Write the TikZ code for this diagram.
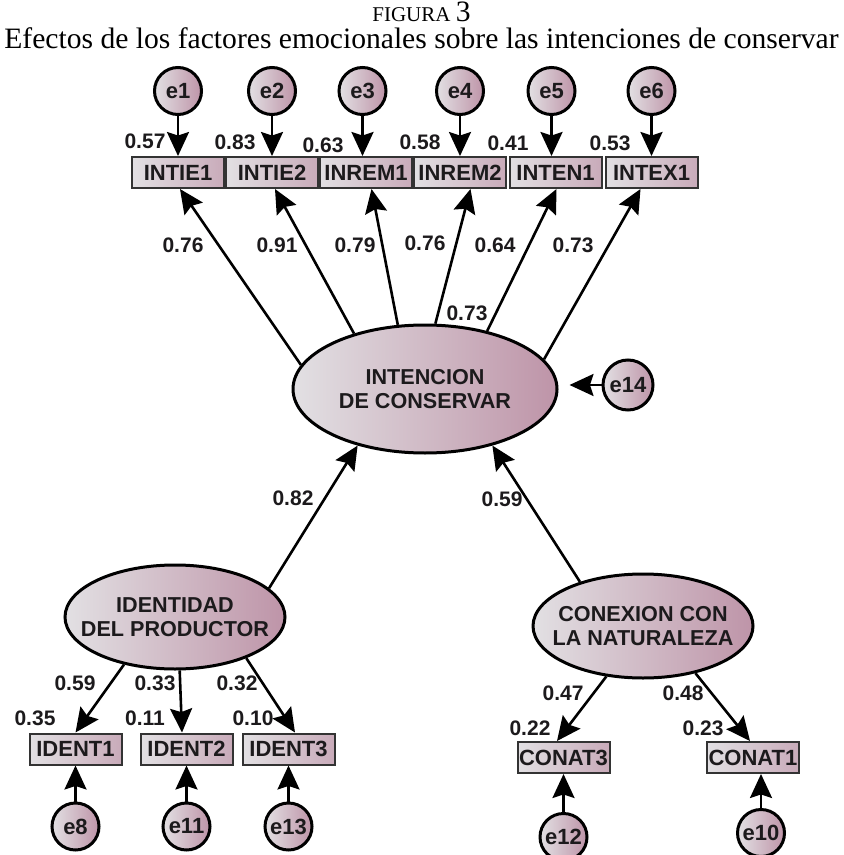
\documentclass[tikz,border=0pt]{standalone}
\usepackage{fontspec}
\setmainfont{Liberation Serif}
\setsansfont{Liberation Sans}
\usetikzlibrary{shapes.geometric, arrows.meta, positioning}
\definecolor{lightend}{RGB}{226,224,227}
\definecolor{mauveend}{RGB}{190,148,168}
\definecolor{inkcol}{RGB}{28,26,28}
\tikzstyle{latent} = [ellipse, draw=black, line width=1.5pt, left color=lightend, right color=mauveend, text=inkcol, font=\sffamily\bfseries\fontsize{10.8}{12}\selectfont, align=center, inner xsep=-15pt, inner ysep=0pt, minimum width=110pt, minimum height=52pt]
\tikzstyle{indicator} = [rectangle, draw=black!80, line width=1pt, left color=lightend, right color=mauveend!70!lightend, minimum width=46pt, minimum height=15.5pt, inner sep=0pt, text=inkcol, font=\sffamily\bfseries\fontsize{11}{12}\selectfont]
\tikzstyle{errorvar} = [circle, draw=black, line width=1.5pt, left color=lightend, right color=mauveend, minimum size=23.5pt, inner sep=0pt, text=inkcol, font=\sffamily\bfseries\fontsize{11}{12}\selectfont]
\tikzstyle{effect} = [draw=black, line width=1.3pt, -{Stealth[length=12pt, width=11pt, inset=1.8pt]}]
\tikzstyle{coef} = [inner sep=0pt, text=inkcol, font=\sffamily\bfseries\fontsize{10.5}{12}\selectfont]

\begin{document}
\begin{tikzpicture}[x=0.5pt, y=0.5pt]
\useasboundingbox (0,0) rectangle (843,-855);

% Title
\node (figlabel) [anchor=base, inner sep=0pt] at (421.5,-22) {\fontsize{10.5}{11}\selectfont FIGURA \fontsize{14.8}{15}\selectfont 3};
\node (figtitle) [anchor=base, inner sep=0pt] at (421.5,-49) {\fontsize{14.8}{15}\selectfont Efectos de los factores emocionales sobre las intenciones de conservar};

% Latent factors
\node (intencion) [latent, minimum width=132pt, minimum height=64pt] at (425,-389) {INTENCION\\DE CONSERVAR};
\node (identidad) [latent] at (175,-617) {IDENTIDAD\\DEL PRODUCTOR};
\node (conexion) [latent] at (643,-626) {CONEXION CON\\LA NATURALEZA};

% Indicators of INTENCION
\node (intie1) [indicator] at (178,-172.5) {INTIE1};
\node (intie2) [indicator, right=0pt of intie1] {INTIE2};
\node (inrem1) [indicator, right=0pt of intie2] {INREM1};
\node (inrem2) [indicator, right=0pt of inrem1] {INREM2};
\node (inten1) [indicator, right=0.75pt of inrem2] {INTEN1};
\node (intex1) [indicator, right=1pt of inten1] {INTEX1};

% Indicators of IDENTIDAD and CONEXION
\node (ident1) [indicator] at (75.5,-749) {IDENT1};
\node (ident2) [indicator] at (186.5,-749) {IDENT2};
\node (ident3) [indicator] at (288.5,-749) {IDENT3};
\node (conat3) [indicator] at (563.5,-757.5) {CONAT3};
\node (conat1) [indicator] at (753,-757.5) {CONAT1};

% Error terms
\node (e1) [errorvar, above=20pt of intie1] {e1};
\node (e2) [errorvar, above=20pt of intie2] {e2};
\node (e3) [errorvar, above=20pt of inrem1, xshift=-1.75pt] {e3};
\node (e4) [errorvar, above=20pt of inrem2] {e4};
\node (e5) [errorvar, above=20pt of inten1, xshift=-2pt] {e5};
\node (e6) [errorvar, above=20pt of intex1] {e6};
\node (e14) [errorvar, minimum size=25pt] at (628,-385) {e14};
\node (e8) [errorvar, below=18pt of ident1] {e8};
\node (e11) [errorvar, below=18pt of ident2] {e11};
\node (e13) [errorvar, below=18pt of ident3] {e13};
\node (e12) [errorvar, below=19pt of conat3] {e12};
\node (e10) [errorvar] at (761,-833) {e10};

% Error arrows
\draw [effect] (e1) -- (e1 |- intie1.north);
\draw [effect] (e2) -- (e2 |- intie2.north);
\draw [effect] (e3) -- (e3 |- inrem1.north);
\draw [effect] (e4) -- (e4 |- inrem2.north);
\draw [effect] (e5) -- (e5 |- inten1.north);
\draw [effect] (e6) -- (e6 |- intex1.north);
\draw [effect, shorten >=5.5pt] (e14) -- (e14 -| intencion.east);
\draw [effect] (e8) -- (ident1);
\draw [effect] (e11) -- (ident2);
\draw [effect] (e13) -- (ident3);
\draw [effect] (e12) -- (conat3);
\draw [effect] (e10) -- (e10 |- conat1.south);

% Loadings of INTENCION
\draw [effect] (intencion.169) -- ([xshift=1pt]intie1.south);
\draw [effect] (intencion.142) -- ([xshift=1.5pt]intie2.south);
\draw [effect] (intencion.113) -- ([xshift=2.75pt]inrem1.south);
\draw [effect] (intencion.81) -- ([xshift=5.25pt]inrem2.south);
\draw [effect] (intencion.43) -- ([xshift=0.5pt]inten1.south);
\draw [effect] (intencion.14) -- ([xshift=-5.5pt]intex1.south);

% Structural paths
\draw [effect] (identidad.17) -- (intencion.220);
\draw [effect] (conexion.145) -- (intencion.320);

% Loadings of IDENTIDAD and CONEXION
\draw [effect] (identidad.223) -- (ident1.north);
\draw [effect] (identidad.275) -- ([xshift=-2.25pt]ident2.north);
\draw [effect] (identidad.330) -- ([xshift=3.25pt]ident3.north);
\draw [effect] (conexion.234) -- ([xshift=-3.25pt]conat3.north);
\draw [effect] (conexion.318) -- ([xshift=-1.5pt]conat1.north);

% Coefficients
\node (r2intie1) [coef] at (145,-141) {0.57};
\node (r2intie2) [coef] at (235,-142) {0.83};
\node (r2inrem1) [coef] at (323,-145) {0.63};
\node (r2inrem2) [coef] at (420,-142) {0.58};
\node (r2inten1) [coef] at (508,-143) {0.41};
\node (r2intex1) [coef] at (610,-143) {0.53};
\node (ldintie1) [coef] at (183,-245) {0.76};
\node (ldintie2) [coef] at (277,-245) {0.91};
\node (ldinrem1) [coef] at (355,-245) {0.79};
\node (ldinrem2) [coef] at (425,-243) {0.76};
\node (ldinten1) [coef] at (495,-245) {0.64};
\node (ldintex1) [coef] at (573,-245) {0.73};
\node (r2intencion) [coef] at (467,-313) {0.73};
\node (bidentidad) [coef] at (293,-498) {0.82};
\node (bconexion) [coef] at (502,-499) {0.59};
\node (ldident1) [coef] at (75,-683) {0.59};
\node (ldident2) [coef] at (155,-683) {0.33};
\node (ldident3) [coef] at (237,-683) {0.32};
\node (r2ident1) [coef] at (35,-718) {0.35};
\node (r2ident2) [coef] at (145,-718) {0.11};
\node (r2ident3) [coef] at (253,-718) {0.10};
\node (ldconat3) [coef] at (563,-693) {0.47};
\node (ldconat1) [coef] at (683,-693) {0.48};
\node (r2conat3) [coef] at (530,-728) {0.22};
\node (r2conat1) [coef] at (703,-728) {0.23};

\end{tikzpicture}
\end{document}
